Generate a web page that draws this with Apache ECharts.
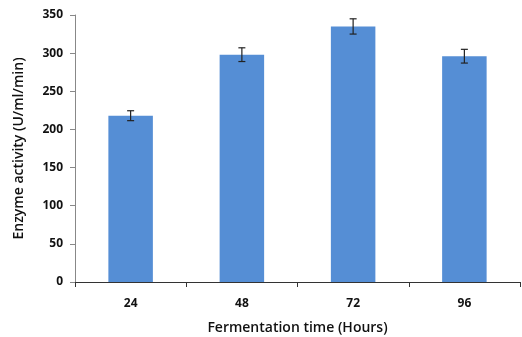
<!DOCTYPE html>
<html>
<head>
<meta charset="utf-8">
<script src="https://cdn.jsdelivr.net/npm/echarts@6/dist/echarts.min.js"></script>
<style>
  html, body { margin: 0; padding: 0; background: #fff; }
  #chart { width: 522px; height: 337px; }
</style>
</head>
<body>
<div id="chart"></div>
<script>
// 데이터
const hours = ['24', '48', '72', '96'];
const activity = [218, 298, 335, 296];
const errors = [6.5, 9, 10, 9];

const chart = echarts.init(document.getElementById('chart'));

const fontFamily = '"Open Sans", Lato, sans-serif';

// 오차 막대 렌더러
function renderError(params, api) {
    const idx = api.value(0);
    const lo = api.coord([idx, api.value(1)]);
    const hi = api.coord([idx, api.value(2)]);
    const half = 3.5;
    const style = { stroke: '#222', lineWidth: 1.2 };
    return {
        type: 'group',
        children: [
            { type: 'line', shape: { x1: lo[0], y1: lo[1], x2: hi[0], y2: hi[1] }, style },
            { type: 'line', shape: { x1: lo[0] - half, y1: lo[1], x2: lo[0] + half, y2: lo[1] }, style },
            { type: 'line', shape: { x1: hi[0] - half, y1: hi[1], x2: hi[0] + half, y2: hi[1] }, style }
        ]
    };
}

const option = {
    animation: false,
    grid: { left: 75, right: 2, top: 15, bottom: 55, containLabel: false, outerBoundsMode: 'none' },
    xAxis: {
        type: 'category',
        data: hours,
        name: 'Fermentation time (Hours)',
        nameLocation: 'middle',
        nameGap: 39,
        nameTextStyle: { fontFamily, fontSize: 14, fontWeight: 600, color: '#111' },
        axisLine: { lineStyle: { color: '#333', width: 1 } },
        axisTick: { show: true, alignWithLabel: false, length: 5, lineStyle: { color: '#333' } },
        axisLabel: { fontFamily, fontSize: 12, fontWeight: 'bold', color: '#111', margin: 16 }
    },
    yAxis: {
        type: 'value',
        min: 0,
        max: 350,
        interval: 50,
        name: 'Enzyme activity (U/ml/min)',
        nameLocation: 'middle',
        nameGap: 49,
        nameTextStyle: { fontFamily, fontSize: 14, fontWeight: 600, color: '#111' },
        axisLine: { show: true, lineStyle: { color: '#888', width: 1 } },
        axisTick: { show: true, length: 5, lineStyle: { color: '#888' } },
        axisLabel: { fontFamily, fontSize: 12, fontWeight: 'bold', color: '#111', margin: 12 },
        splitLine: { show: false }
    },
    series: [
        {
            name: 'Enzyme activity',
            type: 'bar',
            data: activity,
            barWidth: '40%',
            itemStyle: { color: '#558ed5' }
        },
        {
            name: 'error',
            type: 'custom',
            renderItem: renderError,
            data: activity.map((v, i) => [i, v - errors[i], v + errors[i]]),
            z: 10
        }
    ]
};

chart.setOption(option);
</script>
</body>
</html>
